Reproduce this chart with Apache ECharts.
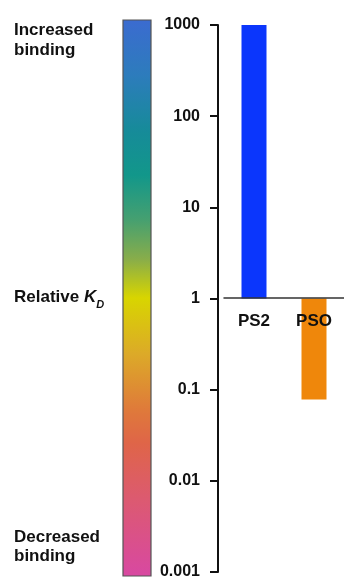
<!DOCTYPE html>
<html>
<head>
<meta charset="utf-8">
<script src="https://cdn.jsdelivr.net/npm/echarts@6/dist/echarts.min.js"></script>
<style>
html,body{margin:0;padding:0;background:#fff;}
#chart{width:344px;height:580px;}
</style>
</head>
<body>
<div id="chart"></div>
<script>
// Data
var categories = ['PS2', 'PSO'];
var relativeKd = [1000, 0.078];
var barColors = ['#0b36fc', '#ef870b'];
var yTickLabels = ['0.001', '0.01', '0.1', '1', '10', '100', '1000'];
var scaleTop = 'Increased\nbinding';
var scaleBottom = 'Decreased\nbinding';

var FONT = '"Liberation Sans", Arial, sans-serif';
var chart = echarts.init(document.getElementById('chart'), null, {renderer: 'canvas'});

var option = {
  backgroundColor: '#ffffff',
  animation: false,
  grid: {left: 224, right: -4, top: 25, bottom: 7, containLabel: false},
  xAxis: {
    type: 'category',
    data: categories,
    position: 'bottom',
    offset: -274,
    z: 10,
    axisLine: {show: true, onZero: false, lineStyle: {color: '#333', width: 1.5}},
    axisTick: {show: false},
    axisLabel: {margin: 15, fontFamily: FONT, fontWeight: 'bold', fontSize: 17, color: '#111'},
    splitLine: {show: false}
  },
  yAxis: {
    type: 'log',
    logBase: 10,
    min: 0.001,
    max: 1000,
    interval: 1,
    offset: 6,
    axisLine: {show: true, lineStyle: {color: '#111', width: 2}},
    axisTick: {show: true, length: 8, lineStyle: {color: '#111', width: 2}},
    axisLabel: {
      margin: 18,
      fontFamily: FONT, fontWeight: 'bold', fontSize: 16, color: '#111',
      formatter: function (v) {
        var i = Math.round(Math.log10(v)) + 3;
        return yTickLabels[i];
      }
    },
    splitLine: {show: false}
  },
  series: [{
    type: 'bar',
    barWidth: 25,
    data: relativeKd.map(function (v, i) {
      return {value: v, itemStyle: {color: barColors[i]}};
    })
  }],
  graphic: [
    {
      type: 'rect',
      shape: {x: 123, y: 20, width: 28, height: 556},
      style: {
        fill: new echarts.graphic.LinearGradient(0, 0, 0, 1, [
          {offset: 0, color: '#3b6bd0'},
          {offset: 0.1, color: '#2d7cbc'},
          {offset: 0.2, color: '#168b99'},
          {offset: 0.28, color: '#12978a'},
          {offset: 0.36, color: '#46a070'},
          {offset: 0.43, color: '#88ad4a'},
          {offset: 0.5, color: '#d8d500'},
          {offset: 0.6, color: '#dcaa28'},
          {offset: 0.7, color: '#df7a3a'},
          {offset: 0.76, color: '#df6548'},
          {offset: 0.86, color: '#dc5a70'},
          {offset: 1, color: '#d848a2'}
        ]),
        stroke: '#555',
        lineWidth: 1.2
      }
    },
    {
      type: 'text', left: 14, top: 20,
      style: {text: scaleTop, font: 'bold 17px ' + FONT, fill: '#111', lineHeight: 20}
    },
    {
      type: 'text', left: 14, top: 528,
      style: {text: scaleBottom, font: 'bold 17px ' + FONT, fill: '#111', lineHeight: 19}
    },
    {
      type: 'text', left: 14, top: 289,
      style: {
        text: '{n|Relative }{k|K}{d|D}',
        rich: {
          n: {font: 'bold 17px ' + FONT, fill: '#111', verticalAlign: 'bottom'},
          k: {font: 'italic bold 17px ' + FONT, fill: '#111', verticalAlign: 'bottom'},
          d: {font: 'italic bold 11px ' + FONT, fill: '#111', verticalAlign: 'bottom', padding: [0, 0, -4, 0]}
        }
      }
    }
  ]
};
chart.setOption(option);
</script>
</body>
</html>
